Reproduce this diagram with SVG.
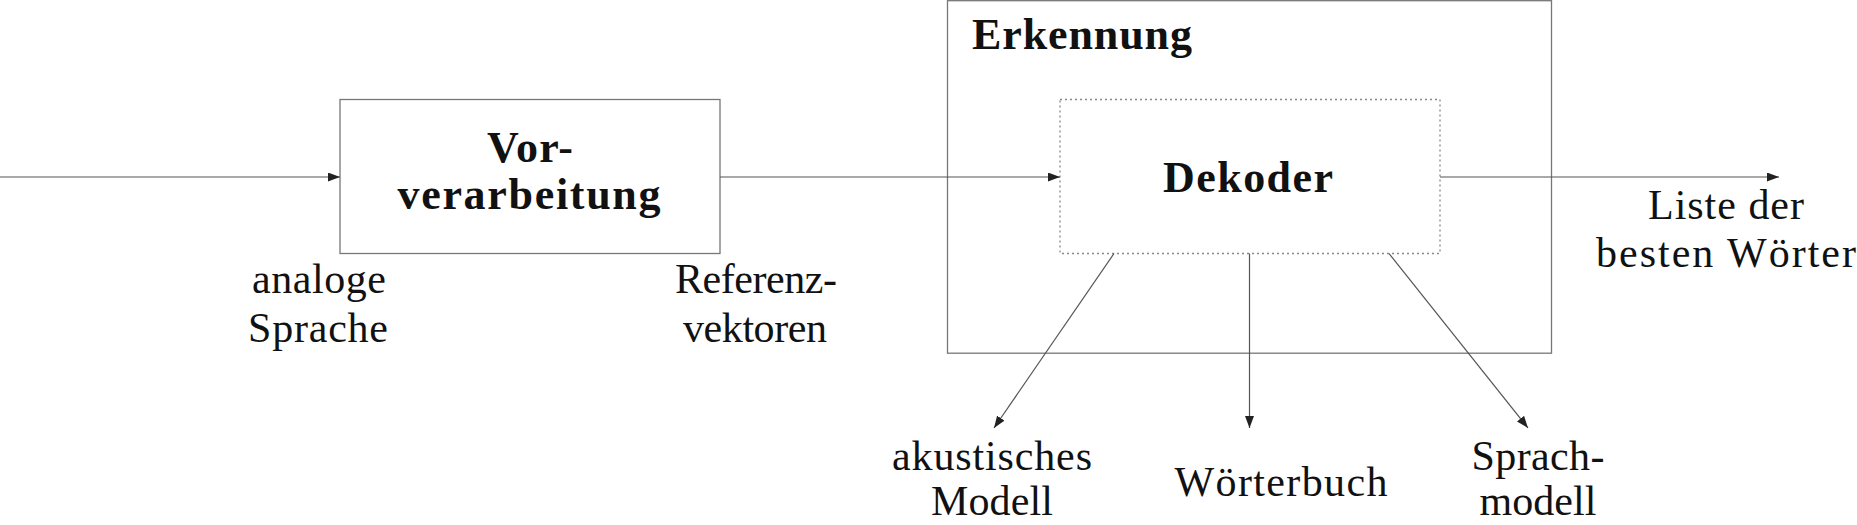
<svg xmlns="http://www.w3.org/2000/svg" width="1857" height="525" viewBox="0 0 1857 525">
<style>
text{font-family:"Liberation Serif","DejaVu Serif",serif;font-size:42px;fill:#111;text-anchor:middle}
.b{font-weight:bold;font-size:44px}
.box{fill:none;stroke:#777;stroke-width:1.3}
.dot{fill:none;stroke:#888;stroke-width:1.3;stroke-dasharray:2 3}
.c{fill:none;stroke:#555;stroke-width:1.2}
</style>
<defs>
<marker id="ah" viewBox="0 0 12 9" refX="12" refY="4.5" markerWidth="12" markerHeight="9" markerUnits="userSpaceOnUse" orient="auto">
<path d="M0,0 L12,4.5 L0,9 Z" fill="#222"/>
</marker>
</defs>
<rect width="1857" height="525" fill="#fff"/>
<g id="erkennung">
<rect class="box" x="947.5" y="0.7" width="604" height="352.5"/>
<text class="b" x="972" y="49" style="text-anchor:start" textLength="220">Erkennung</text>
</g>
<g id="vorverarbeitung">
<rect class="box" x="340" y="99.5" width="380" height="154"/>
<text class="b" x="530" y="162" textLength="86">Vor-</text>
<text class="b" x="529" y="209" textLength="263">verarbeitung</text>
</g>
<g id="dekoder">
<rect class="dot" x="1060" y="99.5" width="380" height="154"/>
<text class="b" x="1248" y="192" textLength="170">Dekoder</text>
</g>
<g id="connectors">
<line class="c" x1="0" y1="177" x2="340" y2="177" marker-end="url(#ah)"/>
<line class="c" x1="720" y1="177" x2="1060" y2="177" marker-end="url(#ah)"/>
<line class="c" x1="1440" y1="177" x2="1779" y2="177" marker-end="url(#ah)"/>
<line class="c" x1="1114" y1="253.5" x2="994" y2="428" marker-end="url(#ah)"/>
<line class="c" x1="1249.5" y1="253.5" x2="1249.5" y2="428" marker-end="url(#ah)"/>
<line class="c" x1="1389" y1="253.5" x2="1528" y2="428" marker-end="url(#ah)"/>
</g>
<g id="label-analoge">
<text x="319" y="293" textLength="134">analoge</text>
<text x="318" y="342" textLength="140">Sprache</text>
</g>
<g id="label-referenz">
<text x="756" y="293" textLength="162">Referenz-</text>
<text x="755" y="342" textLength="144">vektoren</text>
</g>
<g id="label-liste">
<text x="1726" y="219" textLength="156">Liste der</text>
<text x="1726" y="267" textLength="260">besten Wörter</text>
</g>
<g id="akustisches-modell">
<text x="992" y="470" textLength="200">akustisches</text>
<text x="992" y="515" textLength="122">Modell</text>
</g>
<g id="woerterbuch">
<text x="1281" y="496" textLength="213">Wörterbuch</text>
</g>
<g id="sprachmodell">
<text x="1538" y="470" textLength="133">Sprach-</text>
<text x="1538" y="515" textLength="117">modell</text>
</g>
</svg>
